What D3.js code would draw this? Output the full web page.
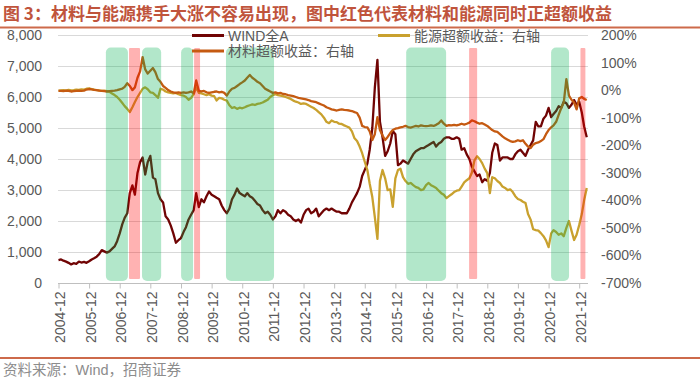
<!DOCTYPE html>
<html><head><meta charset="utf-8">
<script src="https://cdn.jsdelivr.net/npm/d3@7/dist/d3.min.js"></script>
<style>body{margin:0;background:#fff}</style>
</head><body>
<svg id="c" width="700" height="380"></svg>
<script>
const titleText = "图 3：材料与能源携手大涨不容易出现，图中红色代表材料和能源同时正超额收益";
const sourceText = "资料来源：Wind，招商证券";
const seriesNames = ["WIND全A", "能源超额收益：右轴", "材料超额收益：右轴"];
const seriesColors = ["#700404", "#c9a12e", "#c55a11"];

// monthly values, first value = 2004-12 month end, then 2005-01 ... 2022-03
const windA = [
  740,
  760, 720, 690, 650, 600, 640, 620, 690, 660, 680, 650, 700,
  760, 800, 850, 930, 1060, 1020, 980, 1020, 1100, 1180, 1350, 1600,
  1900, 2100, 2250, 2900, 3150, 2850, 3550, 3900, 4050, 3500, 3900, 4100,
  3400, 3350, 2900, 2700, 2600, 2150, 2050, 1850, 1600, 1300, 1380, 1450,
  1650, 1800, 2050, 2200, 2350, 2900, 2450, 2700, 2600, 2800, 2950, 2850,
  2800, 2750, 2700, 2500, 2350, 2250, 2400, 2700, 2850, 3050, 2900, 2850,
  2800, 2900, 2800, 2750, 2650, 2550, 2500, 2350, 2250, 2300, 2200, 2050,
  2150, 2350, 2250, 2350, 2300, 2200, 2150, 2050, 2000, 2050, 1950, 2200,
  2350, 2400, 2250, 2300, 2400, 2150, 2250, 2350, 2400, 2350, 2400, 2350,
  2300, 2300, 2250, 2250, 2250, 2400, 2600, 2750, 2900, 3100, 3450, 3650,
  3850, 4300, 5000, 6300, 7200, 5200, 4700, 4100, 4250, 4500, 4900, 4800,
  3800, 3850, 3950, 3900, 3850, 4000, 4150, 4250, 4300, 4350, 4350, 4400,
  4450, 4500, 4550, 4400, 4500, 4550, 4650, 4700, 4700, 4650, 4650, 4700,
  4650, 4300, 4350, 4150, 4000, 3750, 3600, 3450, 3500, 3250, 3350, 3300,
  3550, 4200, 4500, 4450, 3950, 4050, 4050, 4050, 4000, 4000, 4150, 4250,
  4300, 4200, 4100, 4300, 4450, 4600, 5200, 5050, 5050, 5300, 5400, 5650,
  5350, 5450, 5550, 5700, 5650, 5850, 5800, 5650, 5750, 5900, 5750, 5850,
  5500, 5050, 4700
];
const energyExcess = [
  -2,
  -1, 0, -2, 1, -1, 0, 2, 1, 3, 2, 5, 6,
  4, 2, 0, -1, -3, -2, -4, -6, -12, -18, -25, -35,
  -47, -58, -68, -80, -62, -43, -25, -10, 5, 10, 3, -8,
  -10, -18, -28, 5, 2, -5, -8, -10, -12, -10, -15, -18,
  -20, -25, -35, -28, -15, 10, -10, -12, -15, -18, -15, -20,
  -22, -38, -28, -30, -35, -38, -55, -65, -62, -68, -64, -66,
  -62, -58, -55, -52, -54, -50, -48, -45, -40, -35, -25, -18,
  -15, -18, -20, -22, -25, -28, -32, -38, -42, -45, -50, -48,
  -50, -55, -60, -65, -72, -80, -88, -100, -115, -120, -110, -115,
  -116, -122, -123, -128, -132, -136, -150, -175, -185, -205, -229, -260,
  -290, -340, -388, -461, -540, -330, -290, -320, -363, -360, -424, -320,
  -290, -285, -316, -330, -340, -337, -345, -352, -355, -363, -360, -345,
  -337, -345, -350, -355, -365, -374, -380, -392, -385, -378, -370, -365,
  -363, -350, -335, -327, -320, -300, -255, -240, -250, -265, -285, -301,
  -374, -316, -320, -330, -337, -350, -355, -363, -360, -370, -385, -395,
  -399, -405, -410, -450, -470, -505, -508, -510, -519, -530, -545, -570,
  -520, -508, -515, -525, -520, -530, -500, -475, -510, -544, -525, -490,
  -450, -400, -355
];
const materialExcess = [
  -3,
  -3, -4, -2, -3, -5, -4, -3, -2, -3, -2, 2, 4,
  3, 1, 0, -2, -3, -4, -5, -4, -3, -2, 0, 3,
  5, 12, 25, 15, 0, 10, 45, 68, 120, 75, 60, 70,
  80, 65, 40, 30, 15, 8, 0, -5, -8, -10, -8, -10,
  -8, -10, -8, -5, -12, 35, -2, -5, -3, -8, -10, -8,
  -6, -5, -8, -6, -10, -20, -5, 5, 8, 15, 22, 28,
  35, 45, 55, 45, 38, 30, 25, 15, 5, 0, -5, -10,
  -8, -12, -10, -14, -15, -18, -20, -22, -25, -28, -30, -32,
  -34, -36, -40, -42, -44, -48, -52, -56, -62, -66, -70, -72,
  -74, -72, -70, -72, -73, -74, -76, -80, -83, -100, -130, -134,
  -135, -150, -181, -160, -98, -145, -165, -181, -170, -156, -145, -140,
  -138, -135, -133, -130, -134, -136, -133, -130, -132, -128, -130, -131,
  -130, -128, -130, -126, -120, -110, -122, -130, -127, -128, -126, -128,
  -125, -122, -125, -122, -118, -110, -113, -118, -122, -120, -125, -130,
  -138, -145, -150, -152, -160, -168, -175, -180, -185, -188, -186, -182,
  -185, -182, -195, -205, -210, -198, -192, -190, -185, -178, -160, -145,
  -135, -128, -115, -90, -65, -45, 40, -20, -35, -45, -70, -30,
  -25, -32, -36
];

const leftTicks = [0, 1000, 2000, 3000, 4000, 5000, 6000, 7000, 8000];
const rightTicks = [200, 100, 0, -100, -200, -300, -400, -500, -600, -700];
const xTickLabels = ["2004-12","2005-12","2006-12","2007-12","2008-12","2009-12","2010-12","2011-12",
  "2012-12","2013-12","2014-12","2015-12","2016-12","2017-12","2018-12","2019-12","2020-12","2021-12"];

// shaded periods
const greenBands = [
  ["2006-07-19", "2007-04-08"],
  ["2007-09-23", "2008-05-08"],
  ["2009-01-01", "2009-05-24"],
  ["2010-06-20", "2012-01-14"],
  ["2016-05-08", "2017-08-27"],
  ["2021-01-30", "2021-09-01"]
];
const redBands = [
  ["2007-04-21", "2007-08-30"],
  ["2009-06-05", "2009-08-15"],
  ["2018-05-28", "2018-09-01"],
  ["2022-01-15", "2022-03-15"]
];

// ---------- drawing ----------
const svg = d3.select("#c");
const numFont = "'Liberation Sans', Arial, sans-serif";
const cjkFont = "'Liberation Sans', 'Noto Sans CJK SC', sans-serif";
const axisGrey = "#595959";

const dates = windA.map((_, i) => new Date(2005, i, 0));
const parse = d3.timeParse("%Y-%m-%d");
const monthEnd = s => { const [y, m] = s.split("-").map(Number); return new Date(y, m, 0); };

const x = d3.scaleTime().domain([new Date(2004, 11, 31), new Date(2022, 3, 15)]).range([58.5, 588]);
const yL = d3.scaleLinear().domain([0, 8000]).range([283, 35]);
const yR = d3.scaleLinear().domain([-700, 200]).range([283, 35]);

// title
svg.append("text").attr("x", 3).attr("y", 20)
  .attr("font-family", "'Noto Sans CJK SC', sans-serif").attr("font-weight", "bold")
  .attr("font-size", 17).attr("fill", "#c0543c").text(titleText);
svg.append("line").attr("x1", 0).attr("x2", 700).attr("y1", 27.5).attr("y2", 27.5)
  .attr("stroke", "#cd6a4b").attr("stroke-width", 2);

// grid
svg.append("g").selectAll("line").data(leftTicks.filter(d => d > 0)).join("line")
  .attr("x1", 58).attr("x2", 588)
  .attr("y1", d => Math.round(yL(d)) + 0.5).attr("y2", d => Math.round(yL(d)) + 0.5)
  .attr("stroke", "#d9d9d9").attr("stroke-width", 1);

// left axis labels
svg.append("g").selectAll("text").data(leftTicks).join("text")
  .attr("x", 42).attr("y", d => yL(d)).attr("dy", "0.36em").attr("text-anchor", "end")
  .attr("font-family", numFont).attr("font-size", 14).attr("fill", axisGrey)
  .text(d => d3.format(",")(d));

// right axis labels
svg.append("g").selectAll("text").data(rightTicks).join("text")
  .attr("x", 601).attr("y", d => yR(d)).attr("dy", "0.36em").attr("text-anchor", "start")
  .attr("font-family", numFont).attr("font-size", 14).attr("fill", axisGrey)
  .text(d => d + "%");

// bottom axis
const xAxis = d3.axisBottom(x)
  .tickValues(xTickLabels.map(monthEnd))
  .tickFormat((d, i) => xTickLabels[i])
  .tickSize(5).tickSizeOuter(0);
const gx = svg.append("g").attr("transform", "translate(0,283.5)").call(xAxis);
gx.select(".domain").attr("stroke", "#bfbfbf").attr("d", "M58,0H588");
gx.selectAll(".tick line").attr("stroke", "#bfbfbf");
gx.selectAll(".tick text")
  .attr("font-family", numFont).attr("font-size", 14).attr("fill", axisGrey)
  .attr("text-anchor", "end").attr("transform", "rotate(-90)")
  .attr("x", -8).attr("y", 1).attr("dy", "0.36em");

// series lines
const lineL = d3.line().x((d, i) => x(dates[i])).y(d => yL(d)).curve(d3.curveLinear);
const lineR = d3.line().x((d, i) => x(dates[i])).y(d => yR(d)).curve(d3.curveLinear);
svg.append("path").datum(windA).attr("d", lineL).attr("fill", "none")
  .attr("stroke", seriesColors[0]).attr("stroke-width", 2.3).attr("stroke-linejoin", "round");
svg.append("path").datum(energyExcess).attr("d", lineR).attr("fill", "none")
  .attr("stroke", seriesColors[1]).attr("stroke-width", 2.3).attr("stroke-linejoin", "round");
svg.append("path").datum(materialExcess).attr("d", lineR).attr("fill", "none")
  .attr("stroke", seriesColors[2]).attr("stroke-width", 2.3).attr("stroke-linejoin", "round");

// shaded bands (semi transparent, over the lines)
svg.append("g").selectAll("rect").data(greenBands).join("rect")
  .attr("x", d => x(parse(d[0]))).attr("width", d => x(parse(d[1])) - x(parse(d[0])))
  .attr("y", 47.5).attr("height", 233.5).attr("rx", 5)
  .attr("fill", "rgb(0,176,80)").attr("fill-opacity", 0.3);
svg.append("g").selectAll("rect").data(redBands).join("rect")
  .attr("x", d => x(parse(d[0]))).attr("width", d => x(parse(d[1])) - x(parse(d[0])))
  .attr("y", 48).attr("height", 231).attr("rx", 1)
  .attr("fill", "rgb(255,0,0)").attr("fill-opacity", 0.3);

// legend
const legendItems = [
  { name: seriesNames[0], color: seriesColors[0], lx: 192, y: 35.5 },
  { name: seriesNames[1], color: seriesColors[1], lx: 378, y: 35.5 },
  { name: seriesNames[2], color: seriesColors[2], lx: 192, y: 51 }
];
const lg = svg.append("g").selectAll("g").data(legendItems).join("g");
lg.append("line").attr("x1", d => d.lx).attr("x2", d => d.lx + 32)
  .attr("y1", d => d.y).attr("y2", d => d.y)
  .attr("stroke", d => d.color).attr("stroke-width", 3);
lg.append("text").attr("x", d => d.lx + 36).attr("y", d => d.y).attr("dy", "0.36em")
  .attr("font-family", cjkFont).attr("font-size", 14).attr("fill", axisGrey)
  .text(d => d.name);

// footer
svg.append("line").attr("x1", 0).attr("x2", 700).attr("y1", 358).attr("y2", 358)
  .attr("stroke", "#cd6a4b").attr("stroke-width", 2);
svg.append("text").attr("x", 3).attr("y", 375)
  .attr("font-family", cjkFont).attr("font-size", 14.5).attr("fill", "#8c8c8c")
  .text(sourceText);
</script>
</body></html>
